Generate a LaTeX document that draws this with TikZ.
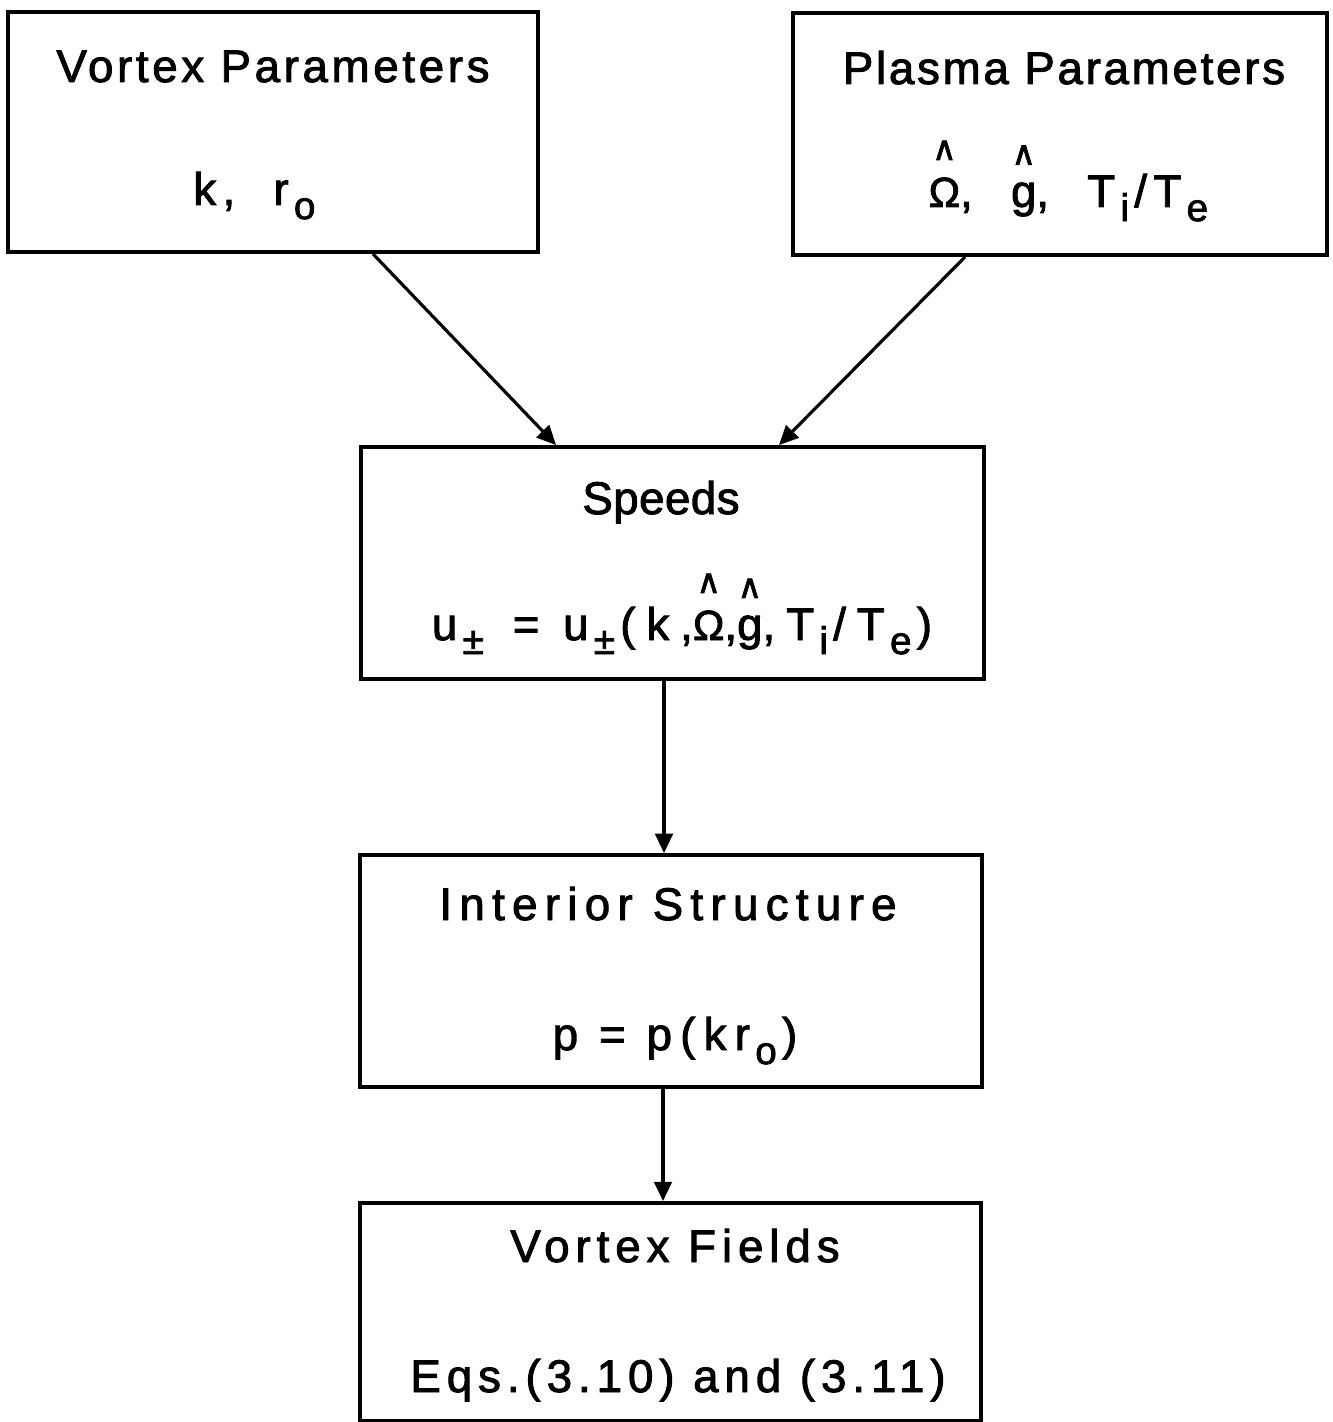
\documentclass[tikz,border=0pt]{standalone}
\usepackage{fontspec}
\setmainfont{Liberation Sans}[UprightFeatures={FakeBold=2}]
\newfontfamily\symf{DejaVu Sans}[FakeBold=2]
\usetikzlibrary{arrows.meta,calc}
\newcommand\lowsub[1]{\kern3pt\raisebox{-8pt}{\fontsize{22}{24}\selectfont #1}\kern3pt}
\newcommand\hatted[1]{{\setbox0\hbox{#1}\rlap{\hbox to\wd0{\hss\raisebox{\dimexpr\ht0+10pt\relax}{\symf\fontsize{19}{19}\selectfont ∧}\hss}}\box0}}
\newcommand\smOmega{{\fontsize{24}{24}\selectfont Ω}}
\newcommand\ls[1]{\addfontfeature{LetterSpace=#1}}
\begin{document}
\begin{tikzpicture}[x=0.02cm,y=-0.02cm,
  box/.style={draw, line width=2.2pt, inner sep=0pt},
  lbl/.style={anchor=base, inner sep=0pt, font=\fontsize{26}{30}\selectfont},
  arr/.style={line width=1.8pt, -{Triangle[length=11pt,width=10pt]}}]
\useasboundingbox (0,0) rectangle (1332,1422);
% boxes
\node[box, minimum width={530*0.02cm}, minimum height={240*0.02cm}] (vp) at (273,132) {};
\node[box, minimum width={534*0.02cm}, minimum height={242*0.02cm}] (pp) at (1060,134) {};
\node[box, minimum width={623*0.02cm}, minimum height={232*0.02cm}] (sp) at (672.5,563) {};
\node[box, minimum width={622*0.02cm}, minimum height={232*0.02cm}] (is) at (671,971) {};
\node[box, minimum width={621*0.02cm}, minimum height={218*0.02cm}] (vf) at (670.5,1312) {};
% texts
\node[lbl] (vpt) at (273,82) {\ls{8}Vortex Parameters};
\node[lbl] (vpf) at (257,205) {\ls{14}k,\ \ r\lowsub{o}};
\node[lbl] (ppt) at (1064,84) {\ls{6}Plasma Parameters};
\node[lbl] (ppf) at (1071,207) {\ls{14}\hatted{\smOmega},\ \ \hatted{g},\ \ T\lowsub{i}/T\lowsub{e}};
\node[lbl] (spt) at (661,514) {\ls{1}Speeds};
\node[lbl] (spf) at (682,640) {\ls{24}u\lowsub{±}\ =\ u\lowsub{±}(k,\hatted{\smOmega},\hatted{g},T\lowsub{i}/T\lowsub{e})};
\node[lbl] (ist) at (668,920) {\ls{16}Interior Structure};
\node[lbl] (isf) at (675,1050) {\ls{18}p\ =\ p(kr\lowsub{o})};
\node[lbl] (vft) at (675,1262) {\ls{13}Vortex Fields};
\node[lbl] (vff) at (678,1392) {\ls{13}Eqs.(3.10) and (3.11)};
% connectors
\draw[arr] ([xshift=7.34cm]vp.south west) -- ([xshift=3.94cm]sp.north west);
\draw[arr] ([xshift=3.48cm]pp.south west) -- ([xshift=8.4cm]sp.north west);
\draw[arr] ([xshift=-0.17cm]sp.south) -- ([xshift=-0.17cm]sp.south |- is.north);
\draw[arr] ([xshift=-0.16cm]is.south) -- ([xshift=-0.16cm]is.south |- vf.north);
\end{tikzpicture}
\end{document}
